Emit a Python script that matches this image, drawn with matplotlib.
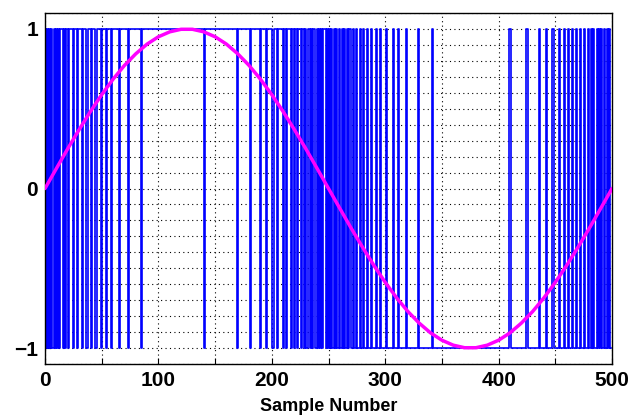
import numpy as np
import matplotlib
matplotlib.use("Agg")
import matplotlib.pyplot as plt

# ---- data ----
n_samples = 500
# first half: signal sits at +1, these samples are -1
neg_pulses = [1, 3, 5, 7, 9, 11, 13, 16, 18, 21, 25, 29, 33, 37, 41, 45, 50, 54,
              59, 66, 74, 85, 141, 170, 181, 190, 195, 201, 205, 210, 213, 217,
              220, 223, 226, 229, 231, 234, 236, 239, 241, 243, 245, 248]
# second half: signal sits at -1, these samples are +1
pos_pulses = [251, 253, 255, 257, 260, 262, 264, 267, 269, 272, 275, 278, 281,
              284, 288, 292, 296, 301, 307, 312, 319, 329, 342, 410, 425, 436,
              442, 448, 454, 458, 462, 465, 469, 472, 476, 479, 482, 484, 487,
              489, 491, 493, 496, 498]

# reference (magenta) curve, read every 10 samples
ref_x = list(range(0, 501, 10))
ref_y = [0.000, 0.125, 0.249, 0.368, 0.482, 0.588, 0.685, 0.771, 0.844, 0.905,
         0.951, 0.982, 0.998, 0.998, 0.982, 0.951, 0.905, 0.844, 0.771, 0.685,
         0.588, 0.482, 0.368, 0.249, 0.125, 0.000, -0.125, -0.249, -0.368,
         -0.482, -0.588, -0.685, -0.771, -0.844, -0.905, -0.951, -0.982,
         -0.998, -0.998, -0.982, -0.951, -0.905, -0.844, -0.771, -0.685,
         -0.588, -0.482, -0.368, -0.249, -0.125, 0.000]

xtick_vals = list(range(0, 501, 50))
xtick_labels = ["0", "", "100", "", "200", "", "300", "", "400", "", "500"]
ytick_major = [-1, 0, 1]
ytick_labels = ["\u22121", "0", "1"]

# ---- build signal ----
sig = np.ones(n_samples)
sig[n_samples // 2:] = -1
sig[neg_pulses] = -1
sig[pos_pulses] = 1
x = np.arange(n_samples)

plt.rcParams['font.family'] = ['Liberation Sans', 'DejaVu Sans']

fig = plt.figure(figsize=(6.42, 4.17), dpi=100)
ax = fig.add_axes([0.0701, 0.1271, 0.8832, 0.8417])

ax.plot(x, sig, color=(0, 0, 1), lw=1.2, zorder=2, drawstyle='steps-mid')
ax.plot(ref_x, ref_y, color=(1, 0, 1), lw=2.5, zorder=3, solid_capstyle='round')

ax.set_xlim(0, 500)
ax.set_ylim(-1.1, 1.1)
ax.set_xticks(xtick_vals)
ax.set_xticklabels(xtick_labels)
ax.set_yticks(ytick_major)
ax.set_yticklabels(ytick_labels)
ax.set_yticks(np.round(np.arange(-1.1, 1.11, 0.1), 2), minor=True)

ax.set_axisbelow(True)
ax.grid(True, which='major', axis='x', color='black', linestyle=(0, (1, 3)), lw=0.8)
ax.grid(True, which='both', axis='y', color='black', linestyle=(0, (1, 3)), lw=0.8)

ax.tick_params(axis='both', which='both', direction='in', top=False, right=False)
ax.tick_params(axis='both', which='major', length=4, width=0.8, labelsize=15, pad=5)
ax.tick_params(axis='y', which='minor', length=2, width=0.6)
for lab in ax.get_xticklabels() + ax.get_yticklabels():
    lab.set_fontweight('bold')

for s in ax.spines.values():
    s.set_color('black')
    s.set_linewidth(1.0)

ax.set_xlabel("Sample Number", fontsize=13, fontweight='bold', labelpad=6)

fig.savefig("out.png", dpi=100)
